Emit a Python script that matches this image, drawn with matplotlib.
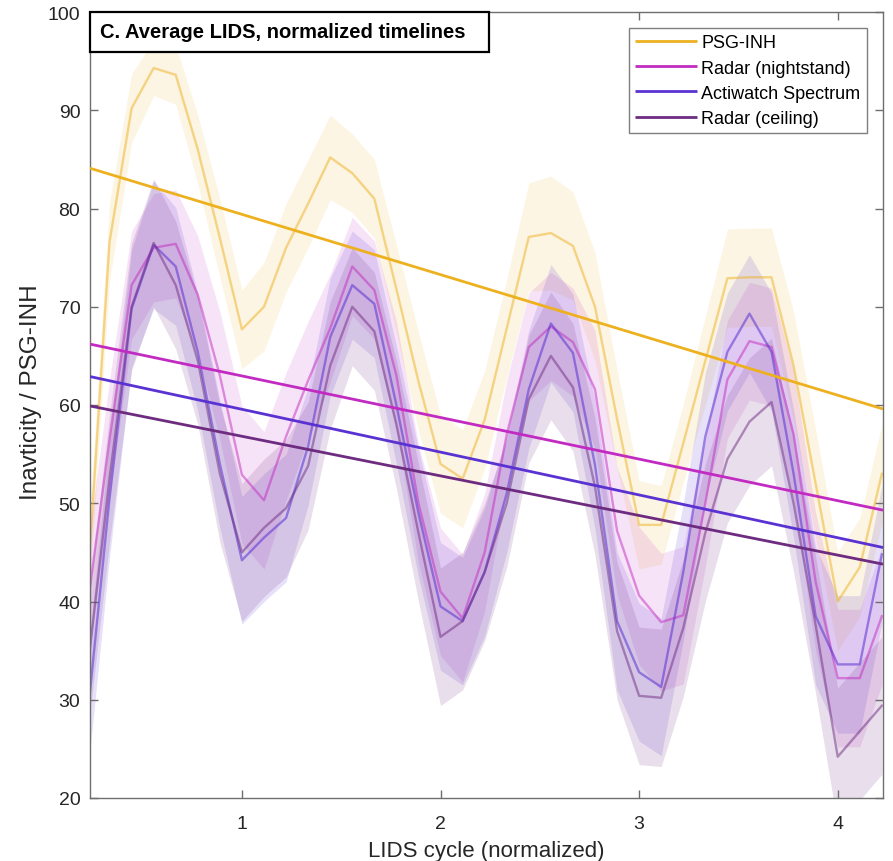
import numpy as np
import matplotlib
matplotlib.use("Agg")
import matplotlib.pyplot as plt
from matplotlib.patches import Rectangle

plt.rcParams['font.family'] = ['Liberation Sans', 'DejaVu Sans']

# ---------------- data ----------------
cycle_x = np.arange(2, 39) / 9.0  # LIDS cycle (normalized)

psg = [41.5, 76.6, 90.2, 94.3, 93.6, 86.0, 77.0, 67.7, 70.0, 76.0, 80.5, 85.2, 83.6,
       81.0, 71.8, 62.4, 54.0, 52.5, 58.5, 67.8, 77.1, 77.5, 76.2, 70.0, 58.6, 47.8,
       47.8, 56.1, 64.5, 72.9, 73.0, 73.0, 64.0, 52.0, 40.0, 43.5, 53.0]
psg_err = [3.5, 4.0, 3.5, 2.8, 3.0, 3.5, 4.0, 4.0, 4.5, 4.5, 4.5, 4.3, 4.0, 4.0, 4.5,
           5.0, 5.0, 5.0, 5.0, 5.0, 5.5, 5.8, 5.5, 5.5, 5.0, 4.5, 4.0, 4.0, 4.5, 5.0,
           5.0, 5.0, 5.5, 5.5, 5.0, 5.0, 5.0]

nightstand = [39.5, 56.5, 72.2, 76.0, 76.4, 71.2, 63.0, 52.9, 50.3, 56.8, 62.5, 67.8, 74.1,
              71.7, 63.0, 50.0, 41.0, 38.3, 45.0, 57.0, 65.9, 68.0, 66.4, 61.6, 47.2, 40.6,
              37.9, 38.6, 50.0, 62.6, 66.5, 65.9, 57.0, 42.0, 32.2, 32.2, 38.5]
nightstand_err = [6.0, 6.0, 5.5, 5.5, 5.5, 6.0, 6.5, 7.0, 7.0, 6.5, 6.0, 5.5, 5.0,
                  5.0, 5.5, 6.0, 6.5, 6.5, 6.0, 5.5, 5.5, 5.5, 5.5, 6.0, 6.5, 7.0,
                  7.0, 7.0, 6.5, 6.0, 6.0, 6.0, 6.5, 7.0, 7.0, 7.0, 7.0]

actiwatch = [28.3, 50.5, 69.8, 76.3, 74.1, 65.4, 54.0, 44.2, 46.5, 48.5, 55.8, 66.9, 72.2,
             70.3, 60.0, 49.0, 39.5, 38.0, 43.0, 51.0, 61.6, 68.3, 65.3, 53.9, 38.0, 32.8,
             31.3, 43.0, 56.8, 65.4, 69.3, 65.4, 53.0, 38.5, 33.6, 33.6, 44.8]
actiwatch_err = [6.0, 6.0, 6.0, 6.5, 6.0, 6.0, 6.5, 6.5, 6.5, 6.5, 6.0, 6.0, 5.5,
                 5.5, 6.0, 6.5, 6.5, 6.5, 6.5, 6.0, 6.0, 6.0, 6.0, 6.5, 7.0, 7.0,
                 7.0, 7.0, 6.5, 6.0, 6.0, 6.0, 6.5, 7.0, 7.0, 7.0, 7.0]

ceiling = [33.0, 52.5, 70.0, 76.5, 72.2, 64.5, 53.0, 45.0, 47.5, 49.5, 53.8, 64.0, 70.0,
           67.5, 58.0, 47.0, 36.4, 38.0, 43.0, 50.0, 60.6, 65.0, 61.8, 51.7, 37.0, 30.4,
           30.2, 37.3, 47.0, 54.5, 58.3, 60.3, 50.0, 37.6, 24.2, 26.8, 29.4]
ceiling_err = [6.5, 6.5, 6.5, 6.5, 6.5, 6.5, 7.0, 7.0, 7.0, 7.0, 6.5, 6.5, 6.0,
               6.0, 6.5, 7.0, 7.0, 7.0, 7.0, 6.5, 6.5, 6.5, 6.5, 7.0, 7.0, 7.0,
               7.0, 7.0, 7.0, 6.5, 6.5, 6.5, 7.0, 7.0, 7.0, 7.0, 7.0]

# linear trends: intercept, slope
trend_intercept = [85.54, 67.19, 63.92, 60.85]
trend_slope = [-6.136, -4.232, -4.358, -4.032]

labels = ["PSG-INH", "Radar (nightstand)", "Actiwatch Spectrum", "Radar (ceiling)"]
colors = ["#EDB120", "#C22BC2", "#5A32D2", "#6E2C80"]

series = [psg, nightstand, actiwatch, ceiling]
errs = [psg_err, nightstand_err, actiwatch_err, ceiling_err]

# ---------------- figure ----------------
fig = plt.figure(figsize=(8.93, 8.62), dpi=100)
ax = fig.add_axes([90/893, 63/862, 793/893, 786/862])

xlim = (0.235, 4.228)
ax.set_xlim(*xlim)
ax.set_ylim(20, 100)

band_alpha = [0.12, 0.13, 0.15, 0.15]
for vals, e, c, ba in zip(series, errs, colors, band_alpha):
    v = np.array(vals); e = np.array(e)
    ax.fill_between(cycle_x, v - e, v + e, color=c, alpha=ba, lw=0, zorder=1)

line_alpha = [0.5, 0.5, 0.55, 0.5]
for vals, c, la in zip(series, colors, line_alpha):
    ax.plot(cycle_x, vals, color=c, alpha=la, lw=1.7, zorder=2)

xx = np.array(xlim)
handles = []
for b0, b1, c, lab in zip(trend_intercept, trend_slope, colors, labels):
    h, = ax.plot(xx, b0 + b1 * xx, color=c, lw=2.0, zorder=3, label=lab,
                 solid_capstyle='butt')
    handles.append(h)

# axes styling
axis_col = '#6e6e6e'
for s in ax.spines.values():
    s.set_color(axis_col)
    s.set_linewidth(1.0)
ax.set_xticks([1, 2, 3, 4])
ax.set_yticks(np.arange(20, 101, 10))
ax.tick_params(direction='in', top=True, right=True, length=6, width=1,
               color=axis_col, labelsize=14, labelcolor='#262626')
ax.tick_params(axis='x', pad=12)
ax.tick_params(axis='y', pad=7)
ax.set_xlabel("LIDS cycle (normalized)", fontsize=16, color='#262626')
ax.set_ylabel("Inavticity / PSG-INH", fontsize=17.5, color='#262626')
ax.xaxis.set_label_coords(0.5, -0.0535)
ax.yaxis.set_label_coords(-0.0605, 0.517)

leg = ax.legend(handles=handles, loc='upper right',
                bbox_to_anchor=(1 - 16/793, 1 - 16/786), borderaxespad=0,
                fontsize=13, frameon=True, fancybox=False, framealpha=1,
                edgecolor='#7f7f7f', handlelength=3.4, handletextpad=0.25,
                labelspacing=0.45, borderpad=0.36)
leg.get_frame().set_linewidth(1.0)
leg.set_zorder(5)

# title box
bh = (52.7 - 13) / 786
ax.add_patch(Rectangle((0, 1 - bh), (489 - 90) / 793, bh, transform=ax.transAxes,
                       facecolor='white', edgecolor='black', lw=1.6, zorder=6,
                       clip_on=False))
ax.text(10/793, 1 - bh/2, "C. Average LIDS, normalized timelines", transform=ax.transAxes,
        fontsize=14.5, fontweight='bold', va='center', ha='left', zorder=7)

fig.savefig("out.png", dpi=100)
